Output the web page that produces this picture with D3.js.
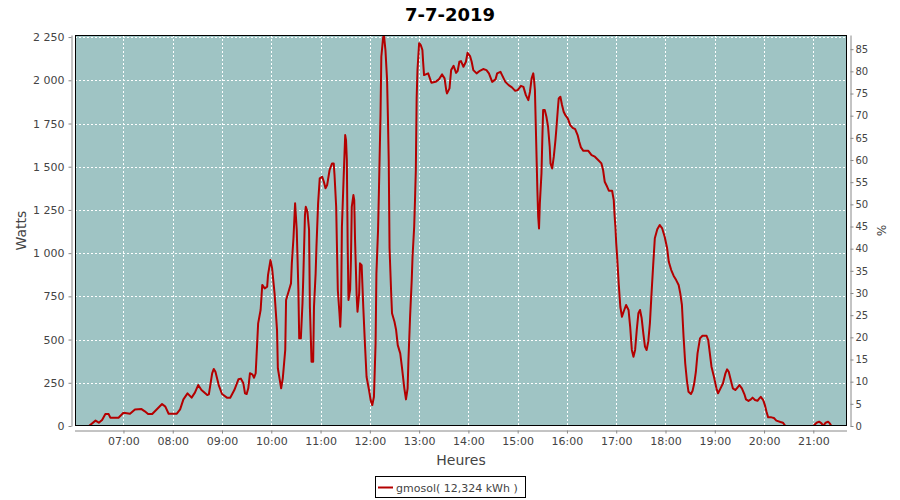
<!DOCTYPE html>
<html>
<head>
<meta charset="utf-8">
<script src="https://cdn.jsdelivr.net/npm/d3@7"></script>
<style>
  html, body { margin: 0; padding: 0; background: #ffffff; }
  svg { display: block; }
  text { font-family: "DejaVu Sans", sans-serif; }
</style>
</head>
<body>
<svg id="chart" width="900" height="500"></svg>
<script>
const title = "7-7-2019";
const seriesName = "gmosol( 12,324 kWh )";

const times = [
"06:18","06:26","06:30","06:34","06:38","06:42","06:44","06:54","07:00","07:08",
"07:14","07:22","07:26","07:30","07:35","07:47","07:51","07:55","08:05","08:09",
"08:13","08:18","08:23","08:27","08:31","08:35","08:42","08:44","08:48","08:50",
"08:52","08:56","09:00","09:06","09:10","09:15","09:20","09:23","09:26","09:28",
"09:30","09:32","09:34","09:37","09:39","09:41","09:42","09:44","09:47","09:49",
"09:52","09:55","09:56","09:59","10:01","10:04","10:07","10:08","10:12","10:14",
"10:17","10:18","10:21","10:24","10:25","10:27","10:29","10:31","10:33","10:34",
"10:36","10:38","10:39","10:41","10:42","10:44","10:46","10:47","10:49","10:51",
"10:52","10:54","10:55","10:57","10:59","11:02","11:04","11:06","11:08","11:11",
"11:14","11:16","11:17","11:19","11:21","11:23","11:24","11:25","11:26","11:28",
"11:30","11:31","11:32","11:33","11:34","11:36","11:37","11:38","11:40","11:41",
"11:42","11:44","11:45","11:47","11:48","11:50","11:52","11:54","11:56","11:59",
"12:01","12:03","12:05","12:07","12:08","12:10","12:11","12:13","12:14","12:16",
"12:17","12:19","12:21","12:22","12:23","12:24","12:26","12:27","12:30","12:32",
"12:34","12:37","12:39","12:42","12:44","12:46","12:47","12:49","12:51","12:52",
"12:54","12:55","12:56","12:57","12:58","13:00","13:01","13:02","13:04","13:05",
"13:06","13:11","13:15","13:20","13:24","13:28","13:31","13:33","13:34","13:37",
"13:39","13:42","13:45","13:47","13:49","13:51","13:54","13:57","13:59","14:02",
"14:04","14:06","14:10","14:14","14:18","14:22","14:25","14:29","14:33","14:35",
"14:39","14:41","14:45","14:49","14:53","14:57","15:00","15:04","15:07","15:10",
"15:13","15:15","15:17","15:19","15:20","15:21","15:22","15:23","15:24","15:25",
"15:26","15:27","15:29","15:30","15:31","15:33","15:35","15:37","15:39","15:40",
"15:42","15:44","15:46","15:47","15:49","15:50","15:52","15:54","15:56","15:58",
"16:01","16:04","16:07","16:10","16:13","16:15","16:17","16:20","16:26","16:30",
"16:34","16:38","16:42","16:44","16:46","16:49","16:51","16:55","16:57","16:58",
"16:59","17:00","17:01","17:03","17:05","17:07","17:09","17:12","17:15","17:17",
"17:19","17:21","17:23","17:25","17:27","17:29","17:31","17:33","17:35","17:37",
"17:39","17:41","17:43","17:45","17:47","17:50","17:53","17:56","17:59","18:02",
"18:04","18:07","18:10","18:13","18:16","18:18","18:20","18:22","18:24","18:26",
"18:28","18:31","18:33","18:35","18:37","18:39","18:42","18:45","18:50","18:52",
"18:54","18:56","18:59","19:02","19:04","19:07","19:10","19:13","19:15","19:17",
"19:20","19:22","19:25","19:28","19:30","19:33","19:36","19:38","19:41","19:44",
"19:46","19:49","19:52","19:54","19:56","19:59","20:01","20:03","20:05","20:09",
"20:12","20:15","20:20","20:23","20:26","21:00","21:04","21:07","21:10","21:12",
"21:15","21:18","21:20","21:22"
];

const watts = [
0,31,19,35,69,69,48,48,77,71,
96,98,85,69,69,127,112,71,71,96,
154,189,164,193,237,208,179,183,305,330,
314,237,185,164,164,208,270,274,247,189,
185,218,305,299,279,305,401,594,671,816,
796,806,873,960,912,767,555,334,218,276,
440,729,777,825,941,1086,1288,1134,787,507,
507,710,864,1220,1268,1240,1134,690,372,372,
690,883,1037,1288,1433,1442,1413,1375,1394,1481,
1519,1519,1452,1268,787,652,574,690,1153,1423,
1683,1654,1539,1057,729,787,960,1268,1336,1307,
1076,748,661,767,941,931,690,478,285,208,
150,121,169,478,883,1134,1346,1799,2136,2240,
2270,2175,2001,1789,1539,1028,767,652,603,555,
468,420,343,218,154,218,382,632,844,979,
1153,1307,1481,1895,2059,2214,2210,2204,2175,2098,
2030,2040,1986,1991,2005,2034,2011,1943,1924,1953,
2059,2084,2043,2055,2107,2111,2078,2107,2159,2140,
2107,2059,2040,2055,2065,2059,2040,1991,2005,2040,
2049,2030,1991,1972,1959,1939,1943,1968,1962,1914,
1885,1934,2011,2040,2001,1943,1751,1558,1365,1211,
1143,1288,1462,1654,1828,1828,1789,1731,1616,1519,
1490,1558,1654,1712,1838,1895,1905,1857,1818,1799,
1780,1741,1725,1718,1683,1644,1612,1592,1592,1567,
1558,1539,1519,1481,1413,1384,1361,1361,1307,1220,
1153,1057,989,825,690,632,661,700,671,574,
440,401,440,555,652,671,623,536,459,440,
488,594,767,931,1086,1138,1163,1143,1095,1028,
950,902,868,844,816,767,700,516,363,266,
198,185,204,247,314,420,507,522,522,497,
420,343,285,218,189,218,247,305,328,314,
256,218,208,224,237,218,185,154,145,154,
164,150,146,158,169,150,121,83,50,50,
46,31,23,19,0,0,19,25,15,0,
19,25,15,0
];

const wattTicks = [0,250,500,750,1000,1250,1500,1750,2000,2250];
const pctTicks = [0,5,10,15,20,25,30,35,40,45,50,55,60,65,70,75,80,85];
const hourTicks = ["07:00","08:00","09:00","10:00","11:00","12:00","13:00","14:00","15:00","16:00","17:00","18:00","19:00","20:00","21:00"];
const xDomain = ["06:01","21:41"];
const wattMax = 2262;
const pctMax = 88.2;

const parse = d3.timeParse("%H:%M");
const fmtTime = d3.timeFormat("%H:%M");
const fr = d3.formatLocale({decimal: ",", thousands: "\u00a0", grouping: [3], currency: ["", " €"]});
const fmtW = fr.format(",d");

const svg = d3.select("#chart");
const L = 75, R = 847, T = 35, B = 426;

const x = d3.scaleTime().domain(xDomain.map(parse)).range([L, R]);
const y = d3.scaleLinear().domain([0, wattMax]).range([B, T]);
const y2 = d3.scaleLinear().domain([0, pctMax]).range([B, T]);

// plot background
svg.append("rect").attr("x", L).attr("y", T).attr("width", R - L).attr("height", B - T)
  .attr("fill", "#9fc4c4");

// grid
const grid = svg.append("g").attr("stroke", "#ffffff").attr("stroke-width", 1)
  .attr("stroke-dasharray", "2,2").attr("shape-rendering", "crispEdges");
grid.selectAll("line.h").data(wattTicks.filter(d => d > 0)).join("line")
  .attr("x1", L).attr("x2", R).attr("y1", d => Math.round(y(d)) + 0.5).attr("y2", d => Math.round(y(d)) + 0.5);
grid.selectAll("line.v").data(hourTicks.map(parse)).join("line")
  .attr("y1", T).attr("y2", B).attr("x1", d => Math.round(x(d)) + 0.5).attr("x2", d => Math.round(x(d)) + 0.5);

// clip
svg.append("clipPath").attr("id", "clip").append("rect")
  .attr("x", L).attr("y", T).attr("width", R - L).attr("height", B - T);

const data = times.map((t, i) => ({t: parse(t), w: watts[i]}));
const line = d3.line().x(d => x(d.t)).y(d => y(d.w));
svg.append("path").datum(data).attr("clip-path", "url(#clip)")
  .attr("fill", "none").attr("stroke", "#b40000").attr("stroke-width", 2)
  .attr("stroke-linejoin", "round").attr("d", line);

// plot border
svg.append("rect").attr("x", L + 0.5).attr("y", T + 0.5).attr("width", R - L - 1).attr("height", B - T - 1)
  .attr("fill", "none").attr("stroke", "#000000").attr("stroke-width", 1);

// axes
function styleAxis(g) {
  g.selectAll("path.domain").attr("stroke", "#888888");
  g.selectAll(".tick line").attr("stroke", "#888888");
  g.selectAll(".tick text").attr("fill", "#444444").style("font-family", "DejaVu Sans").style("font-size", "11px");
}
const gx = svg.append("g").attr("transform", `translate(0,${430.5})`)
  .call(d3.axisBottom(x).tickValues(hourTicks.map(parse)).tickFormat(fmtTime).tickSize(3).tickSizeOuter(0).tickPadding(4));
styleAxis(gx);
gx.select("path.domain").attr("d", `M${L},0.5H${R}`);

const gy = svg.append("g").attr("transform", `translate(${71.5},0)`)
  .call(d3.axisLeft(y).tickValues(wattTicks).tickFormat(fmtW).tickSize(3).tickSizeOuter(0).tickPadding(4));
styleAxis(gy);

const gy2 = svg.append("g").attr("transform", `translate(${850.5},0)`)
  .call(d3.axisRight(y2).tickValues(pctTicks).tickSize(3).tickSizeOuter(0).tickPadding(2));
styleAxis(gy2);
gy2.selectAll(".tick text").style("font-size", "10px");

// titles
svg.append("text").attr("x", 450).attr("y", 21).attr("text-anchor", "middle")
  .style("font-weight", "bold").style("font-size", "18px").attr("fill", "#000000").text(title);
svg.append("text").attr("transform", `translate(26,${(T + B) / 2}) rotate(-90)`).attr("text-anchor", "middle")
  .style("font-size", "14px").attr("fill", "#444444").text("Watts");
svg.append("text").attr("x", (L + R) / 2).attr("y", 465).attr("text-anchor", "middle")
  .style("font-size", "14px").attr("fill", "#444444").text("Heures");
svg.append("text").attr("transform", `translate(877,${(T + B) / 2}) rotate(90)`).attr("text-anchor", "middle")
  .style("font-size", "12px").attr("fill", "#444444").text("%");

// legend
const lg = svg.append("g");
lg.append("rect").attr("x", 375.5).attr("y", 476.5).attr("width", 150).attr("height", 21)
  .attr("fill", "#ffffff").attr("stroke", "#000000");
lg.append("line").attr("x1", 378).attr("x2", 393).attr("y1", 487.5).attr("y2", 487.5)
  .attr("stroke", "#b40000").attr("stroke-width", 2);
lg.append("text").attr("x", 396).attr("y", 491.5).style("font-size", "11px").attr("fill", "#444444").text(seriesName);
</script>
</body>
</html>
